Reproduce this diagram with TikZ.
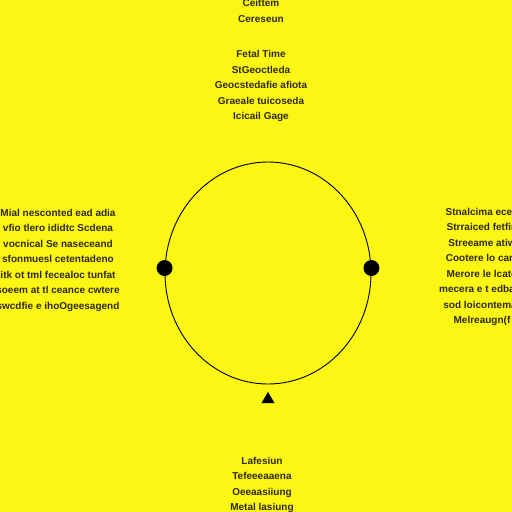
\documentclass[tikz,border=0pt]{standalone}
\usepackage{fontspec}
\setmainfont{Liberation Sans}
\usetikzlibrary{positioning, shapes.geometric}
\definecolor{bgyellow}{RGB}{252,246,20}
\definecolor{ink}{RGB}{45,42,12}

\begin{document}
\begin{tikzpicture}
	[x=1pt, y=-1pt,
	 note/.style={align=center, text=ink, inner sep=0pt, font=\fontsize{10}{15.5}\selectfont\bfseries},
	 dot/.style={circle, fill=black, inner sep=0pt, minimum size=16pt},
	 tip/.style={regular polygon, regular polygon sides=3, fill=black, inner sep=0pt, minimum size=15pt}]
   \fill[bgyellow] (0,0) rectangle (512,512);
   \useasboundingbox (0,0) rectangle (512,512);
   % ring with its two dots and the marker below
   \node[draw, ellipse, line width=0.9pt, minimum width=206pt, minimum height=222pt] (ring) at (268,273) {};
   \node[dot] (west) at ([yshift=5pt]ring.west) {};
   \node[dot] (east) at ([yshift=5pt]ring.east) {};
   \node[tip] (mark) [below=7pt of ring.south] {};
   % text blocks
   \node[note] (head) at (261,11) {Ceittem\\Cereseun};
   \node[note] (title) at (261,86) {Fetal Time\\StGeoctleda\\Geocstedafie afiota\\Graeale tuicoseda\\Icicail Gage};
   \node[note] (leftnote) at (58,260) {Mial nesconted ead adia\\vfio tlero ididtc Scdena\\vocnical Se naseceand\\sfonmuesl cetentadeno\\itk ot tml fecealoc tunfat\\soeem at tl ceance cwtere\\swcdfie e ihoOgeesagend};
   \node[note] (rightnote) at (482,267) {Stnalcima ecen\\Strraiced fetfin\\Streeame atiw\\Cootere lo canl\\Merore le lcato\\mecera e t edbaur\\sod loicontemar\\Melreaugn(f};
   \node[note] (foot) at (262,485) {Lafesiun\\Tefeeeaaena\\Oeeaasiiung\\Metal lasiung};
\end{tikzpicture}
\end{document}
